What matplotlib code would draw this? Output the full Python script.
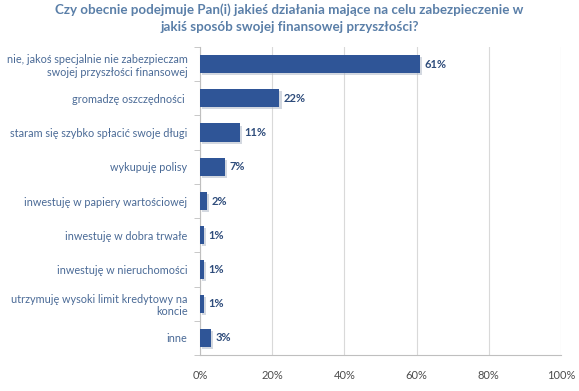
import matplotlib
matplotlib.use("Agg")
import matplotlib.pyplot as plt
import matplotlib.patheffects as pe
from matplotlib.ticker import FixedLocator, PercentFormatter

categories = [
    "nie, jakoś specjalnie nie zabezpieczam\nswojej przyszłości finansowej",
    "gromadzę oszczędności ",
    "staram się szybko spłacić swoje długi",
    "wykupuję polisy",
    "inwestuję w papiery wartościowej",
    "inwestuję w dobra trwałe",
    "inwestuję w nieruchomości",
    "utrzymuję wysoki limit kredytowy na\nkoncie",
    "inne",
]
values = [61, 22, 11, 7, 2, 1, 1, 1, 3]
xticks = [0, 20, 40, 60, 80, 100]
title = "Czy obecnie podejmuje Pan(i) jakieś działania mające na celu zabezpieczenie w\njakiś sposób swojej finansowej przyszłości?"

plt.rcParams['font.family'] = ['Lato', 'DejaVu Sans']

fig = plt.figure(figsize=(5.79, 3.91), dpi=100)
ax = fig.add_axes([200/579, 1-355/391, 361/579, 308/391])

n = len(categories)
pos = list(range(n))
bars = ax.barh(pos, values, height=0.53, color="#2F5597", zorder=3)
for b in bars:
    b.set_path_effects([pe.SimplePatchShadow(offset=(1.5, -1.5), shadow_rgbFace="#A9B3C2", alpha=0.5), pe.Normal()])

for p, v in zip(pos, values):
    ax.text(v + 1.2, p, f"{v}%", va="center", ha="left", fontsize=8,
            fontweight="bold", color="#2E4C7B")

ax.set_ylim(n - 0.5, -0.5)
ax.set_xlim(0, 100)
ax.set_yticks(pos)
ax.set_yticklabels(categories, fontsize=7.85, color="#4A6A96", ha="right", multialignment="right")
ax.tick_params(axis="y", length=0, pad=9)
ax.yaxis.set_minor_locator(FixedLocator([i - 0.5 for i in range(n + 1)]))
ax.tick_params(axis="y", which="minor", length=4, color="#BFBFBF", direction="out")

ax.set_xticks(xticks)
ax.xaxis.set_major_formatter(PercentFormatter(decimals=0))
ax.tick_params(axis="x", length=0, labelsize=8, labelcolor="#4D4D4D", pad=11)
ax.grid(axis="x", color="#D9D9D9", linewidth=0.8, zorder=0)

for s in ["top", "right"]:
    ax.spines[s].set_visible(False)
for s in ["left", "bottom"]:
    ax.spines[s].set_color("#BFBFBF")
    ax.spines[s].set_linewidth(0.8)

fig.text(0.5, 1-18/391, title, ha="center", va="center", fontsize=9.6, fontweight="bold",
         color="#5A7FA8", linespacing=1.45)

fig.savefig("out.png", dpi=100)
